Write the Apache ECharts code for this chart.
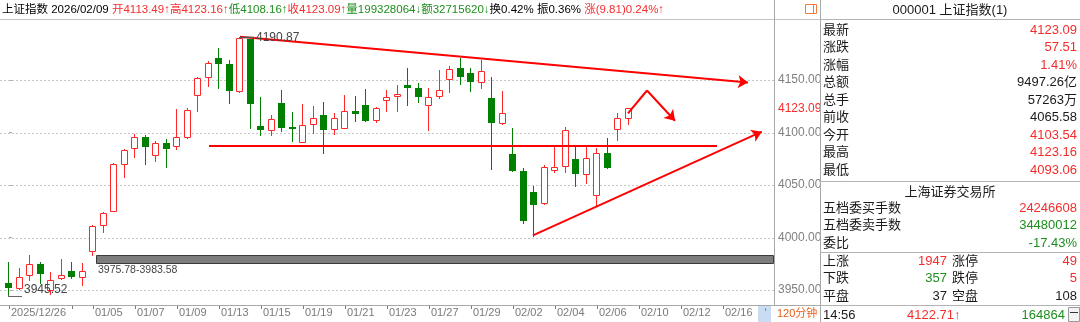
<!DOCTYPE html>
<html><head><meta charset="utf-8">
<script src="https://cdn.jsdelivr.net/npm/echarts@6/dist/echarts.min.js"></script>
<style>html,body{margin:0;padding:0;background:#fff;overflow:hidden}#c{width:1080px;height:322px}</style>
</head><body><div id="c"></div>
<script>
// ---------- data (120-minute candles) ----------
const opens  = [3956.4,3951.6,3964.3,3974.8,3950.0,3961.1,3968.1,3962.1,3987.1,4011.9,
                4025.6,4070.0,4085.0,4096.0,4078.6,4090.3,4087.1,4095.4,4135.7,4152.6,
                4170.7,4165.2,4139.8,4188.8,4106.2,4102.4,4127.8,4105.0,4091.2,4108.1,
                4116.7,4103.0,4104.6,4120.8,4125.9,4111.9,4131.0,4134.8,4145.2,4142.1,
                4125.9,4134.8,4150.7,4161.1,4157.0,4148.4,4132.6,4108.8,4079.5,4063.6,
                4043.6,4032.6,4064.3,4068.1,4074.8,4060.5,4040.5,4080.2,4103.54,4113.49];
const closes = [3952.2,3962.7,3974.5,3965.0,3959.5,3964.3,3962.1,3968.1,4011.0,4023.0,
                4069.7,4083.3,4095.4,4085.9,4089.7,4084.0,4095.4,4121.4,4151.6,4165.9,
                4165.0,4139.8,4189.7,4126.9,4102.4,4112.9,4104.0,4103.0,4107.1,4113.5,
                4102.4,4113.5,4120.8,4117.6,4111.2,4123.3,4133.8,4136.7,4142.1,4133.5,
                4134.1,4140.5,4160.5,4152.6,4147.8,4158.9,4108.8,4118.3,4063.6,4016.0,
                4031.0,4066.9,4066.9,4102.4,4060.2,4075.4,4080.2,4066.5,4113.5,4123.09];
const lows   = [3945.52,3950.5,3959.5,3956.4,3946.2,3960.5,3961.5,3954.8,3983.58,4005.5,
                4025.0,4057.3,4076.4,4070.0,4073.2,4067.5,4084.0,4095.0,4120.8,4144.3,
                4142.1,4127.8,4139.0,4104.0,4097.6,4097.6,4101.4,4092.2,4090.5,4099.8,
                4080.8,4098.6,4104.0,4111.2,4111.0,4110.3,4120.8,4120.8,4126.2,4128.8,
                4102.4,4132.6,4138.9,4146.2,4139.8,4142.1,4065.0,4108.0,4063.0,4013.5,
                4001.7,4032.0,4062.7,4062.7,4049.0,4052.2,4031.0,4066.0,4093.06,4108.16];
const highs  = [3977.0,3970.7,3983.3,3977.0,3967.5,3979.5,3976.2,3975.78,4012.0,4024.0,
                4070.5,4084.0,4098.6,4097.5,4092.2,4093.8,4122.1,4123.0,4152.5,4168.4,
                4180.2,4169.0,4190.87,4189.5,4133.5,4116.7,4140.5,4119.2,4126.9,4125.2,
                4129.4,4118.3,4135.7,4134.8,4141.1,4124.0,4140.5,4145.2,4161.7,4146.8,
                4142.7,4159.5,4163.3,4170.7,4161.7,4169.0,4153.2,4139.5,4104.0,4066.0,
                4049.0,4069.0,4088.1,4105.0,4088.1,4085.9,4085.0,4094.5,4118.9,4123.16];

const xTickIdx  = [0,6,8,12,16,20,24,28,32,36,40,44,48,52,56,60,64,68];
const xLabelIdx = [0,8,12,16,20,24,28,32,36,40,44,48,52,56,60,64,68];
const xLabels   = ['2025/12/26',"01/05","01/07","01/09","01/13","01/15","01/19","01/21","01/23",
                   "01/27","01/29","02/02","02/04","02/06","02/10","02/12","02/16"];
const yTicks    = [3950,4000,4050,4100,4150];
const lastPrice = 4123.09;

const gapRange  = [3975.78, 3983.58];
const gapStartIdx = 8.33;
const highMark  = [22, 4190.87];
const lowMark   = [0, 3945.52];

const arrowLines = [
  [[22.0,4191.2],[70.38,4147.6]],
  [[49.9,4002.1],[71.69,4100.8]],
  [[60.76,4140.0],[63.43,4111.2]]
];
const plainLines = [
  [[19.05,4087.1],[67.43,4087.1]],
  [[58.95,4118.3],[60.76,4140.0]]
];

const headerParts = [
  ['上证指数 2026/02/09 ','k'],['开4113.49↑高4123.16↑','r'],['低4108.16↑','g'],
  ['收4123.09↑','r'],['量199328064↓额32715620↓','g'],['换0.42% 振0.36% ','k'],['涨(9.81)0.24%↑','r']
];
const panelTitle = '000001 上证指数(1)';
const panelRows = [
  ['最新','4123.09','r'],['涨跌','57.51','r'],['涨幅','1.41%','r'],['总额','9497.26亿','k'],
  ['总手','57263万','k'],['前收','4065.58','k'],['今开','4103.54','r'],['最高','4123.16','r'],['最低','4093.06','r']
];
const exchangeName = '上海证券交易所';
const orderRows = [['五档委买手数','24246608','r'],['五档委卖手数','34480012','g'],['委比','-17.43%','g']];
const statRows = [
  ['上涨','1947','r','涨停','49','r'],
  ['下跌','357','g','跌停','5','r'],
  ['平盘','37','k','空盘','108','k']
];
const tickRow = ['14:56','4122.71↑','164864'];
const periodLabel = '120分钟';

// ---------- styling ----------
const FONT = '"Liberation Sans", Arial, "Noto Sans CJK SC", sans-serif';
const C = {r:'#f52c2c', g:'#1e8e1e', k:'#1a1a1a'};
const CANDLE_RED = '#ff2828', CANDLE_GREEN = '#007f00', LINE_RED = '#ff0000';
const X_MIN = -9/10.5, X_MAX = 765/10.5;
const Y_MIN = 4150 - 225/1.05, Y_MAX = 4150 + 60/1.05;

const chart = echarts.init(document.getElementById('c'), null, {renderer:'canvas'});

function renderCandle(params, api){
  const i = api.value(0), o = api.value(1), c = api.value(2), l = api.value(3), h = api.value(4);
  const po = api.coord([i,o]), pc = api.coord([i,c]), pl = api.coord([i,l]), ph = api.coord([i,h]);
  const x = Math.floor(po[0]);
  const up = c >= o;
  const col = up ? CANDLE_RED : CANDLE_GREEN;
  const top = Math.round(Math.min(po[1], pc[1])), bot = Math.round(Math.max(po[1], pc[1]));
  const ch = [{type:'line', shape:{x1:x+0.5, y1:Math.round(ph[1]), x2:x+0.5, y2:Math.round(pl[1])+1}, style:{stroke:col, lineWidth:1}}];
  if (up) {
    ch.push({type:'rect', shape:{x:x-3+0.5, y:top+0.5, width:6, height:Math.max(bot-top,1)}, style:{fill:'#fff', stroke:col, lineWidth:1}});
  } else {
    ch.push({type:'rect', shape:{x:x-3, y:top, width:7, height:Math.max(bot-top,1)}, style:{fill:col}});
  }
  return {type:'group', children:ch};
}

const candleData = opens.map((o,i)=>[i,o,closes[i],lows[i],highs[i]]);

function T(x,y,text,fill,align,size){
  return {type:'text', x:x, y:y, z:120, silent:true,
    style:{text:text, fill:fill, font:(size||13)+'px '+FONT, align:align||'left', textAlign:align||'left',
           verticalAlign:'middle', textVerticalAlign:'middle'}};
}
function L(x1,y1,x2,y2,col,z){
  return {type:'line', z:z||110, silent:true, shape:{x1,y1,x2,y2}, style:{stroke:col, lineWidth:1}};
}

const HFS = 11.5;
const richStyles = {};
['k','r','g'].forEach(k=>{ richStyles[k] = {fill:C[k], color:C[k], fontSize:HFS, fontFamily:FONT}; });
richStyles.k.fill = '#000'; richStyles.k.color = '#000';

const PANEL_X = 820;
const graphics = [];
// header
graphics.push({type:'rect', z:100, silent:true, shape:{x:0,y:0,width:1080,height:19}, style:{fill:'#fff'}});
graphics.push({type:'text', z:120, x:2, y:10, silent:true, style:{
  text: headerParts.map(p=>'{'+p[1]+'|'+p[0]+'}').join(''), rich:richStyles,
  font:HFS+'px '+FONT, fill:'#000', verticalAlign:'middle', textVerticalAlign:'middle'}});
graphics.push(L(0,19.5,1080,19.5,'#c4c4c4'));
graphics.push(L(774.5,0,774.5,305,'#a8a8a8'));
graphics.push(L(0,305.5,PANEL_X,305.5,'#a8a8a8'));
// x-axis tick marks drawn by the axis sit just below this line
// small icon in header
graphics.push({type:'rect', z:120, silent:true, shape:{x:805.5,y:4.5,width:11,height:9}, style:{fill:'#fff', stroke:'#f07a3a', lineWidth:1}});
graphics.push(L(813.5,4.5,813.5,13.5,'#f07a3a',121));
// bottom strip
graphics.push({type:'rect', z:110, silent:true, shape:{x:758,y:306,width:13,height:16}, style:{fill:'#c9dcf2'}});
graphics.push(L(765.5,308,765.5,311,'#7f8fa8',111));
graphics.push(T(777,313.5,periodLabel,'#e8601c','left',11));
// panel
graphics.push({type:'rect', z:115, silent:true, shape:{x:PANEL_X+0.5,y:-1,width:262,height:324}, style:{fill:'#fff', stroke:'#a8a8a8', lineWidth:1}});
graphics.push(T(950,10,panelTitle,'#1a1a1a','center',13));
[19.5,181.5,252.5,305.5].forEach(y=>graphics.push(L(PANEL_X,y,1080,y,'#b4b4b4',116)));
const rowY = [30,47.5,65,82.5,100,117.5,135,152.5,170];
panelRows.forEach((r,i)=>{ graphics.push(T(823,rowY[i],r[0],C.k)); graphics.push(T(1077,rowY[i],r[1],C[r[2]],'right')); });
graphics.push(T(950,192,exchangeName,C.k,'center'));
const ordY = [208,225.5,243];
orderRows.forEach((r,i)=>{ graphics.push(T(823,ordY[i],r[0],C.k)); graphics.push(T(1077,ordY[i],r[1],C[r[2]],'right')); });
const statY = [261,278.5,296];
statRows.forEach((r,i)=>{
  graphics.push(T(823,statY[i],r[0],C.k));
  graphics.push(T(947,statY[i],r[1],C[r[2]],'right'));
  graphics.push(T(952,statY[i],r[3],C.k));
  graphics.push(T(1077,statY[i],r[4],C[r[5]],'right'));
});
graphics.push(T(823,315,tickRow[0],C.k));
graphics.push(T(907,315,tickRow[1],C.r));
graphics.push(T(1065,315,tickRow[2],C.g,'right'));
graphics.push({type:'rect', z:120, silent:true, shape:{x:1068.5,y:307.5,width:11,height:14}, style:{fill:'#f2f2f2', stroke:'#9a9a9a', lineWidth:1}});
graphics.push(L(1070,312.5,1078,312.5,'#333',121));

const markTexts = [
  {type:'high', i:highMark[0], v:highMark[1], text:highMark[1].toFixed(2)},
  {type:'low',  i:lowMark[0],  v:lowMark[1],  text:lowMark[1].toFixed(2)},
  {type:'gap',  i:gapStartIdx, v:gapRange[0], text:gapRange[0].toFixed(2)+'-'+gapRange[1].toFixed(2)}
];

const option = {
  animation:false,
  backgroundColor:'#fff',
  grid:{left:0, right:306, top:20, bottom:17},
  xAxis:{type:'value', min:X_MIN, max:X_MAX,
    axisLine:{show:false}, splitLine:{show:false},
    axisTick:{show:true, customValues:xTickIdx, length:4, lineStyle:{color:'#7a7a7a', width:1}},
    axisLabel:{customValues:xLabelIdx, formatter:(v)=>{const k=xLabelIdx.indexOf(Math.round(v)); return k>=0?xLabels[k]:'';},
      align:'left', padding:[0,0,0,2], margin:2, color:'#7a7a7a', fontSize:11, fontFamily:FONT}},
  yAxis:{type:'value', position:'right', min:Y_MIN, max:Y_MAX, scale:true,
    axisLine:{show:false}, splitLine:{show:false},
    axisTick:{show:true, customValues:yTicks, length:3, lineStyle:{color:'#a8a8a8'}},
    axisLabel:{customValues:yTicks.concat([lastPrice]), formatter:(v)=>Number(v).toFixed(2), margin:4,
      fontSize:12, fontFamily:FONT, color:(v)=>Math.abs(Number(v)-lastPrice)<0.01?C.r:'#808080'}},
  series:[
    {type:'custom', name:'grid', silent:true, z:1, data:yTicks.map(v=>[X_MIN,v]),
      renderItem:(p,api)=>{const v=api.value(1); const a=api.coord([X_MIN,v]), b=api.coord([X_MAX,v]); const y=Math.round(a[1])+0.5;
        return {type:'line', shape:{x1:a[0],y1:y,x2:b[0],y2:y}, style:{stroke:'#c6c6c6', lineWidth:1, lineDash:[2,2]}};}},
    {type:'custom', name:'gap', silent:true, z:2, data:[[gapStartIdx, gapRange[0], X_MAX, gapRange[1]]],
      renderItem:(p,api)=>{const a=api.coord([api.value(0),api.value(3)]), b=api.coord([api.value(2),api.value(1)]);
        const x=Math.round(a[0])+0.5, y=Math.round(a[1])+0.5;
        return {type:'rect', shape:{x:x, y:y, width:Math.round(b[0]-a[0])-1, height:Math.round(b[1]-a[1])}, style:{fill:'#7d7d7d', stroke:'#3c3c3c', lineWidth:1}};}},
    {type:'custom', name:'K', z:3, data:candleData, encode:{x:0, y:[1,2,3,4]}, renderItem:renderCandle},
    {type:'lines', coordinateSystem:'cartesian2d', z:5, silent:true, symbol:['none','none'],
      lineStyle:{color:LINE_RED, width:2, opacity:1, curveness:0}, data:plainLines.map(c=>({coords:c}))},
    {type:'lines', coordinateSystem:'cartesian2d', z:5, silent:true, symbol:['none','arrow'], symbolSize:10,
      lineStyle:{color:LINE_RED, width:2, opacity:1, curveness:0}, data:arrowLines.map(c=>({coords:c}))},
    {type:'custom', name:'marks', silent:true, z:6, data:markTexts.map(m=>[m.i,m.v]),
      renderItem:(p,api)=>{
        const m = markTexts[p.dataIndex]; const pt = api.coord([m.i,m.v]);
        const x = Math.floor(pt[0]), y = Math.round(pt[1]);
        if (m.type==='high') return {type:'group', children:[
          {type:'line', shape:{x1:x+1,y1:y+0.5,x2:x+15,y2:y+0.5}, style:{stroke:'#555', lineWidth:1.5}},
          {type:'text', style:{text:m.text, x:x+17, y:y+0.5, fill:'#444', font:'12px '+FONT, align:'left', verticalAlign:'middle', textAlign:'left', textVerticalAlign:'middle'}}]};
        if (m.type==='low') return {type:'group', children:[
          {type:'line', shape:{x1:x+0.5,y1:y,x2:x+0.5,y2:y+1.5}, style:{stroke:'#666', lineWidth:1}},
          {type:'line', shape:{x1:x,y1:y+1.5,x2:x+14,y2:y+1.5}, style:{stroke:'#666', lineWidth:1}},
          {type:'text', style:{text:m.text, x:x+16, y:y-5, fill:'#444', font:'12px '+FONT, align:'left', verticalAlign:'middle', textAlign:'left', textVerticalAlign:'middle'}}]};
        return {type:'text', style:{text:m.text, x:x+2, y:y+7.5, fill:'#444', font:'10.5px '+FONT, align:'left', verticalAlign:'middle', textAlign:'left', textVerticalAlign:'middle'}};
      }}
  ],
  graphic:{elements:graphics}
};
chart.setOption(option);
</script>
</body></html>
